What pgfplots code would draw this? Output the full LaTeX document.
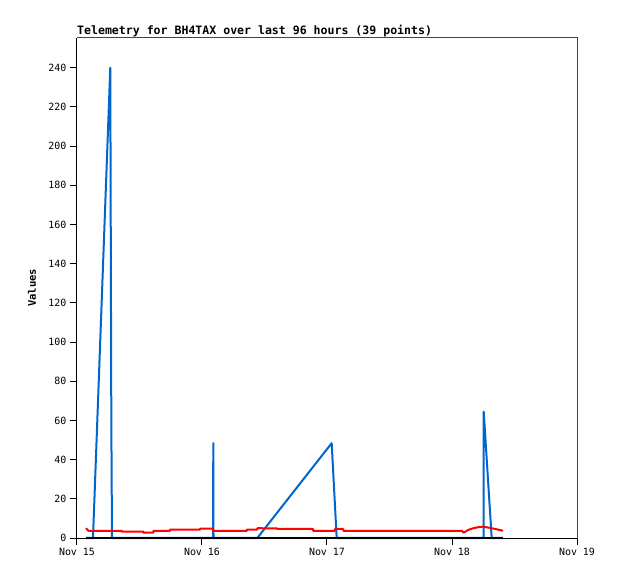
\documentclass[border=0pt]{standalone}
\usepackage{fontspec}
\setmainfont{DejaVu Sans Mono}
\usepackage{pgfplots}
\pgfplotsset{compat=1.18}
\definecolor{tblue}{RGB}{0,102,204}
\definecolor{tgray}{RGB}{68,68,68}
\begin{document}
\begin{tikzpicture}
\useasboundingbox (-77bp,-41bp) rectangle (541bp,538bp);
\begin{axis}[
  at={(0,0)}, anchor=south west,
  width=500bp, height=500bp, scale only axis,
  xmin=0, xmax=96, ymin=0, ymax=255.2,
  axis x line*=bottom, axis y line*=left,
  axis line style={black, line width=1bp},
  xtick={0,24,48,72,96},
  xticklabels={Nov 15,Nov 16,Nov 17,Nov 18,Nov 19},
  ytick={0,20,...,240},
  tick align=outside, major tick length=7bp,
  tick style={black, line width=1bp},
  /pgf/number format/assume math mode=true,
  ticklabel style={font=\fontsize{10}{12}\selectfont},
  ylabel={\textbf{Values}},
  ylabel style={at={(axis description cs:-0.09,0.5)}, anchor=center, font=\fontsize{10.5}{12}\selectfont},
  clip=false,
]
\draw[tgray, line width=1bp] (axis cs:0,255.2) -- (axis cs:96,255.2) -- (axis cs:96,0);
\addplot[tblue, line width=2bp, line join=round] coordinates {
  (1.73,0) (3.07,0) (6.39,240) (6.59,60) (6.72,0)
  (26.12,0) (26.17,48.4) (26.21,0)
  (34.62,0) (48.9,48.4) (49.86,0)
  (78.05,0) (78.09,64.5) (79.62,0) (81.8,0)
};
\addplot[red, line width=2bp, line join=round] coordinates {
  (1.73,5.0) (2.17,3.7) (8.58,3.7) (8.6,3.3) (12.73,3.3) (12.75,2.7)
  (14.65,2.7) (14.7,3.7) (17.86,3.7) (17.9,4.3) (23.6,4.3) (23.65,4.8)
  (26.1,4.8) (26.15,3.7) (32.6,3.7) (32.65,4.3) (34.6,4.3) (34.65,5.0)
  (38.4,4.9) (38.45,4.6) (45.3,4.6) (45.35,3.7) (49.5,3.7) (49.55,4.6)
  (51.1,4.6) (51.15,3.7) (73.9,3.7) (74.2,2.7) (75.1,4.1) (76.1,5.0)
  (77.0,5.5) (78.0,5.8) (79.0,5.3) (80.3,4.6) (81.8,3.7)
};
\addplot[black, line width=1.6bp] coordinates {(1.73,0) (81.8,0)};
\end{axis}
\node[anchor=base west, inner sep=0pt, font=\fontsize{11.6}{13}\selectfont\bfseries] at (0bp,503bp) {Telemetry for BH4TAX over last 96 hours (39 points)};
\end{tikzpicture}
\end{document}
